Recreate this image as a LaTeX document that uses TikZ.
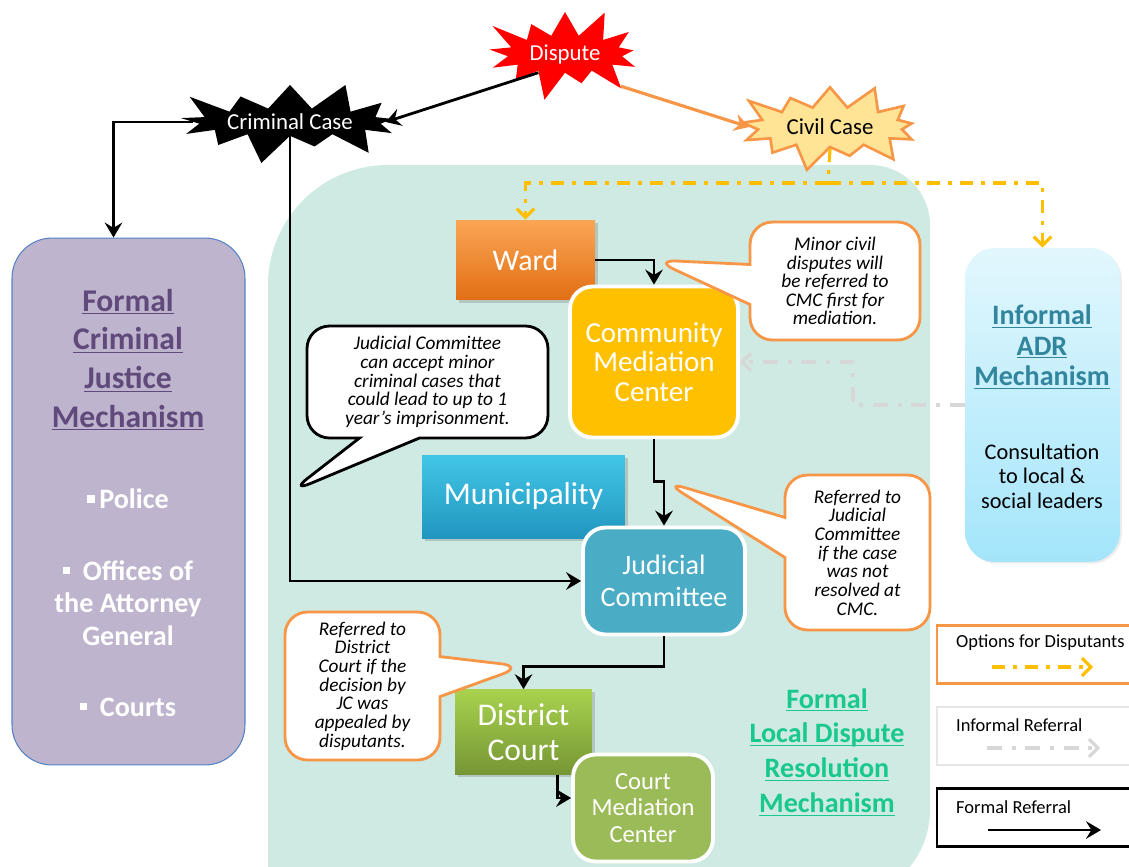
\documentclass[tikz,border=0pt]{standalone}
\usepackage{fontspec}
\setmainfont{Carlito}
\usepackage{xcolor}
\usepackage{tikz}
\usetikzlibrary{shapes,arrows.meta,positioning,calc,shadows}
\definecolor{bggreen}{RGB}{206,234,226}
\definecolor{crimfill}{RGB}{191,180,205}
\definecolor{crimedge}{RGB}{84,130,196}
\definecolor{crimtitle}{RGB}{96,74,123}
\definecolor{wardtop}{RGB}{250,166,85}
\definecolor{wardbot}{RGB}{226,110,20}
\definecolor{cmcfill}{RGB}{255,192,0}
\definecolor{munitop}{RGB}{66,198,232}
\definecolor{munibot}{RGB}{33,150,190}
\definecolor{jcfill}{RGB}{75,172,198}
\definecolor{dctop}{RGB}{168,210,78}
\definecolor{dcbot}{RGB}{118,150,52}
\definecolor{cmedfill}{RGB}{155,187,89}
\definecolor{adrtop}{RGB}{226,247,253}
\definecolor{adrbot}{RGB}{164,229,251}
\definecolor{adrtitle}{RGB}{49,133,156}
\definecolor{localgreen}{RGB}{24,200,140}
\definecolor{dispred}{RGB}{255,0,0}
\definecolor{civilfill}{RGB}{255,228,150}
\definecolor{orangeline}{RGB}{247,150,70}
\definecolor{optyellow}{RGB}{255,190,0}
\definecolor{infgray}{RGB}{215,215,215}
\definecolor{keygray}{RGB}{230,230,230}
\newcommand{\ulword}[1]{\underline{\smash{#1}}}
\newcommand{\sqbullet}{\rule[0.22em]{0.26em}{0.26em}}

\begin{document}
\begin{tikzpicture}[x=0.02cm,y=-0.02cm,>={Stealth[length=8.5pt,width=10pt,inset=3pt]},
  burst/.style={starburst,starburst points=13,starburst point height=0.55cm,align=center,inner sep=1pt,font=\fontsize{13}{14}\selectfont},
  flatbox/.style={rectangle,align=center,text=white,drop shadow={opacity=0.35,shadow xshift=1.5pt,shadow yshift=-1.5pt}},
  roundbox/.style={rectangle,rounded corners=0.45cm,draw=white,line width=2.2pt,align=center,text=white},
  note/.style={rectangle callout,fill=white,rounded corners=0.45cm,line width=1.6pt,align=center,inner sep=2pt,callout pointer width=0.8cm,font=\itshape\fontsize{11}{10.6}\selectfont},
  formal/.style={->,line width=1.6pt},
  option/.style={line width=1.8pt,optyellow,dash pattern=on 7.5pt off 4.5pt on 2.3pt off 4.5pt},
  informal/.style={line width=1.8pt,infgray,dash pattern=on 8.5pt off 5.5pt on 2.3pt off 5.5pt},
  barb/.style={-{Straight Barb[length=5pt,width=10pt]}},
  keybox/.style={rectangle,minimum width=3.96cm,minimum height=1.16cm,line width=1.6pt},
  keytext/.style={anchor=west,font=\fontsize{10.5}{12}\selectfont}]
\useasboundingbox (0,0) rectangle (1129,866);
% local mechanism area
\fill[bggreen](600,900)--(268,900)[rounded corners=2.4cm]--(268,165)[rounded corners=1.2cm]--(930,165)[rounded corners=1.8cm]--(930,900)[sharp corners]--cycle;

% cases
\node[burst,fill=dispred,text=white,minimum width=3.6cm,minimum height=2.05cm,starburst point height=0.65cm](dispute) at (565,54){Dispute};
\node[burst,fill=black,text=white,minimum width=3.8cm,minimum height=1.75cm,starburst point height=0.65cm](crimcase) at (290,122){Criminal Case};
\node[burst,fill=civilfill,draw=orangeline,line width=1.5pt,minimum width=4cm,minimum height=1.9cm](civilcase) at (830,127){Civil Case};

% formal criminal justice
\node[rectangle,rounded corners=0.8cm,fill=crimfill,draw=crimedge,line width=0.6pt,minimum width=4.66cm,minimum height=10.54cm](crim) at (128.5,501.5){};
\node[align=center,text=crimtitle,font=\bfseries\fontsize{18}{22}\selectfont](crimhead) at (128,371){\ulword{Formal}\\\ulword{Criminal}\\\ulword{Justice}\\\ulword{Mechanism}};
\node[align=center,text=white,font=\bfseries\fontsize{16}{18.5}\selectfont](police) at (128,499){\sqbullet\,Police};
\node[align=center,text=white,font=\bfseries\fontsize{16}{18.5}\selectfont](offices) at (128,603){\sqbullet\ \ Offices of\\the Attorney\\General};
\node[align=center,text=white,font=\bfseries\fontsize{16}{18.5}\selectfont](courts) at (128,707){\sqbullet\ \ Courts};

% local bodies
\node[flatbox,top color=wardtop,bottom color=wardbot,minimum width=2.78cm,minimum height=1.6cm,font=\fontsize{17}{20}\selectfont](ward) at (525.5,260){Ward};
\node[roundbox,fill=cmcfill,minimum width=3.36cm,minimum height=3.02cm,font=\fontsize{16.5}{17}\selectfont](cmc) at (654,362){Community\\Mediation\\Center};
\node[flatbox,top color=munitop,bottom color=munibot,minimum width=4.06cm,minimum height=1.66cm,font=\fontsize{18}{20}\selectfont](muni) at (523.5,496.5){Municipality};
\node[roundbox,fill=jcfill,minimum width=3.24cm,minimum height=2.14cm,font=\fontsize{16}{18.5}\selectfont](jc) at (664,581){Judicial\\Committee};
\node[flatbox,top color=dctop,bottom color=dcbot,minimum width=2.74cm,minimum height=1.7cm,font=\fontsize{18}{20}\selectfont](dc) at (523.5,732){District\\Court};
\node[roundbox,fill=cmedfill,minimum width=2.8cm,minimum height=2.14cm,font=\fontsize{14}{15}\selectfont](courtmed) at (643,808){Court\\Mediation\\Center};
\node[align=center,text=localgreen,font=\bfseries\fontsize{16}{19.8}\selectfont](localhead) at (827,762){\ulword{Formal}\\\ulword{Local Dispute}\\\ulword{Resolution}\\\ulword{Mechanism}};

% informal ADR
\node[rectangle,rounded corners=0.6cm,top color=adrtop,bottom color=adrbot,minimum width=3.1cm,minimum height=6.28cm,drop shadow={opacity=0.15,shadow xshift=1pt,shadow yshift=-1pt}](adr) at (1042.5,405){};
\node[align=center,text=adrtitle,font=\bfseries\fontsize{16}{17.5}\selectfont](adrhead) at (1042,357){\ulword{Informal}\\\ulword{ADR}\\\ulword{Mechanism}};
\node[align=center,font=\fontsize{12.7}{14}\selectfont](adrtext) at (1042,476){Consultation\\to local \&\\social leaders};

% bends
\coordinate (wardbend) at (ward.east -| cmc.north);
\coordinate (cmcbend) at ($(cmc.south)+(0,42)$);
\coordinate (jcbend) at (cmcbend -| jc.north);
\coordinate (jcdrop) at ($(jc.south)+(0,30)$);
\coordinate (dcbend) at (jcdrop -| dc.north);
\coordinate (civilbend) at (828,183);
\coordinate (adrbend) at (853,405);
\coordinate (crimtip) at (crimcase.south |- 0,492);

% referrals
\draw[formal](dispute.215)--(crimcase.east);
\draw[->,line width=1.8pt,orangeline](dispute.-30)--(civilcase.west);
\draw[formal](crimcase.west)-|([xshift=-0.3cm]crim.north);
\draw[formal](crimcase.south)|-(jc.west);
\draw[formal](ward.east)--(wardbend)--(cmc.north);
\draw[formal](cmc.south)--(cmcbend)--(jcbend)--(jc.north);
\draw[formal](jc.south)--(jcdrop)--(dcbend)--(dc.north);
\draw[formal]([xshift=0.68cm]dc.south)|-([yshift=0.2cm]courtmed.west);
\draw[option](civilcase.south)--(civilbend);
\draw[option,barb](civilbend)-|(ward.north); \draw[option,barb](civilbend)-|(adr.north);
\draw[informal,barb](adr.west)--(adrbend)|-(cmc.east);

% notes
\node[note,draw=black,callout absolute pointer={(crimtip)},callout pointer width=1.2cm,minimum width=4.82cm,minimum height=2.24cm](jcnote) at (427.5,382){Judicial Committee\\can accept minor\\criminal cases that\\could lead to up to 1\\year’s imprisonment.};
\node[note,draw=orangeline,callout absolute pointer={(wardbend)},minimum width=3.4cm,minimum height=2.36cm](cmcnote) at (835,281){Minor civil\\disputes will\\be referred to\\CMC first for\\mediation.};
\node[note,draw=orangeline,callout absolute pointer={(jcbend)},minimum width=2.9cm,minimum height=3.1cm](jcref) at (857.5,552.5){Referred to\\Judicial\\Committee\\if the case\\was not\\resolved at\\CMC.};
\node[note,draw=orangeline,callout absolute pointer={(dcbend)},minimum width=3.1cm,minimum height=2.96cm](dcref) at (362.5,686){Referred to\\District\\Court if the\\decision by\\JC was\\appealed by\\disputants.};

% legend
\node[keybox,draw=orangeline](optkey) at (1036,654.5){};
\node[keytext](optlabel) at (950,643){Options for Disputants};
\node[keybox,draw=keygray](infkey) at (1036,736){};
\node[keytext](inflabel) at (950,725){Informal Referral};
\node[keybox,draw=black](formkey) at (1036,817.5){};
\node[keytext](formlabel) at (950,807){Formal Referral};
\coordinate (optfrom) at (992,667); \coordinate (optto) at (1093,667);
\coordinate (inffrom) at (987,748); \coordinate (infto) at (1100,748);
\coordinate (formfrom) at (988,830); \coordinate (formto) at (1101,830);
\draw[option,barb](optfrom)--(optto); \draw[informal,barb](inffrom)--(infto); \draw[formal](formfrom)--(formto);
\end{tikzpicture}
\end{document}
